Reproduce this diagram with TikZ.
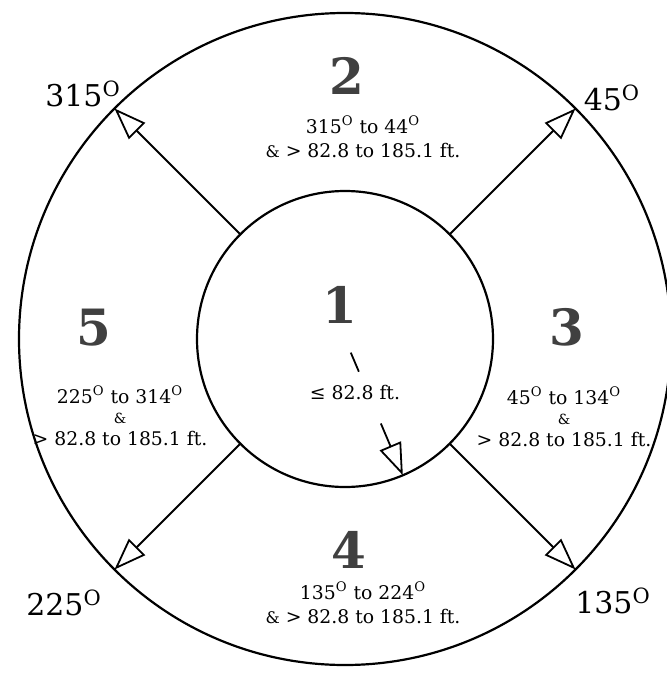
\documentclass[tikz,border=0pt]{standalone}
\usepackage{fontspec}
\setmainfont{DejaVu Serif}
\usetikzlibrary{arrows.meta, positioning}
\newcommand{\dg}{\textsuperscript{O}}

\begin{document}
\begin{tikzpicture}[
  x=0.5pt, y=-0.5pt,
  ring/.style={draw, circle, line width=1.1pt, inner sep=0pt, outer sep=0pt},
  zone/.style={font=\fontsize{25}{25}\selectfont\bfseries, text=black!75},
  rng/.style={font=\fontsize{9.4}{12}\selectfont, align=center},
  bearing/.style={font=\fontsize{15}{15}\selectfont},
  ray/.style={line width=0.9pt, -{Triangle[open, length=16pt, width=11.5pt]}}
]
  \useasboundingbox (0,0) rectangle (666,679);
  \node[ring, minimum size=326pt] (outer) at (345,339) {};
  \node[ring, minimum size=148pt] (inner) at (345,339) {};

  \draw[ray] (inner.135) -- (outer.135);
  \draw[ray] (inner.45) -- (outer.45);
  \draw[ray] (inner.-45) -- (outer.-45);
  \draw[ray] (inner.-135) -- (outer.-135);

  \path (inner.center) -- (inner.-67.6) coordinate[pos=0.1] (c1) coordinate[pos=0.24] (c2) coordinate[pos=0.62] (c3);
  \draw[line width=0.9pt] (c1) -- (c2);
  \draw[ray] (c3) -- (inner.-67.6);

  \node[zone] (z1) at (340,305) {1};
  \node[zone] (z2) at (347,76) {2};
  \node[zone] (z3) at (567,327) {3};
  \node[zone] (z4) at (349,550) {4};
  \node[zone] (z5) at (94,328) {5};

  \node[rng] (r1) at (355,392) {≤ 82.8 ft.};
  \node[rng] (r2) at (363,137) {315\dg{} to 44\dg\\{\footnotesize\&} > 82.8 to 185.1 ft.};
  \node[rng] (r3) at (564,417) {45\dg{} to 134\dg\\[-2pt]{\fontsize{7}{8}\selectfont\&}\\[-1pt]> 82.8 to 185.1 ft.};
  \node[rng] (r4) at (363,603) {135\dg{} to 224\dg\\{\footnotesize\&} > 82.8 to 185.1 ft.};
  \node[rng] (r5) at (120,416) {225\dg{} to 314\dg\\[-2pt]{\fontsize{7}{8}\selectfont\&}\\[-1pt]> 82.8 to 185.1 ft.};

  \node[bearing] (b315) at (83,94) {315\dg};
  \node[bearing] (b45) at (612,98) {45\dg};
  \node[bearing] (b225) at (64,603) {225\dg};
  \node[bearing] (b135) at (613,601) {135\dg};
\end{tikzpicture}
\end{document}
